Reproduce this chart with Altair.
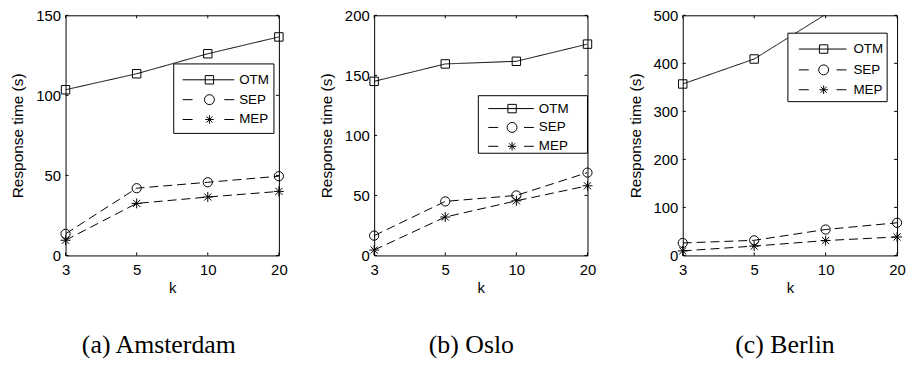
import altair as alt
import pandas as pd

# ---------------- data ----------------
k_labels = ["3", "5", "10", "20"]
series_names = ["OTM", "SEP", "MEP"]

ams_otm = [103.5, 113.5, 126, 136.5]
ams_sep = [13.5, 42, 45.7, 49.5]
ams_mep = [9.5, 32.5, 36.5, 40]

oslo_otm = [145, 159.5, 161.7, 176]
oslo_sep = [16.5, 45, 50, 69]
oslo_mep = [4.5, 32, 45.5, 58]

berlin_otm = [357, 409, 502, 650]   # last two run off the top of the axes
berlin_sep = [26, 31.5, 54, 68]
berlin_mep = [9.5, 19.5, 31, 38.5]

ams_yticks = [0, 50, 100, 150]
oslo_yticks = [0, 50, 100, 150, 200]
berlin_yticks = [0, 100, 200, 300, 400, 500]

captions = ["(a) Amsterdam", "(b) Oslo", "(c) Berlin"]

# ---------------- styling ----------------
FONT = "Liberation Sans"
H = 242
ASTERISK = "M-1,0L1,0M0,-1L0,1M-0.72,-0.72L0.72,0.72M-0.72,0.72L0.72,-0.72"
shape_range = ["square", "circle", ASTERISK]
size_range = [72, 100, 72]
dash_range = [[1, 0], [9, 5], [9, 5]]
one = pd.DataFrame({"_": [0]})


def panel(otm, sep, mep, ymax, yticks, W, leg, cap, cap_x):
    rows = []
    for name, vals in zip(series_names, [otm, sep, mep]):
        for k, v in zip(k_labels, vals):
            rows.append({"k": k, "v": v, "series": name})
    df = pd.DataFrame(rows)

    x = alt.X("k:O", sort=k_labels,
              scale=alt.Scale(type="point", padding=0, domain=k_labels),
              axis=alt.Axis(title="k", labelAngle=0, ticks=False, domain=False,
                            labelFontSize=15, titleFontSize=15, labelFont=FONT,
                            titleFont=FONT, titleFontWeight="normal",
                            labelPadding=7, titlePadding=3, labelColor="black",
                            titleColor="black", grid=False))
    y = alt.Y("v:Q", scale=alt.Scale(domain=[0, ymax], nice=False),
              axis=alt.Axis(title="Response time (s)", values=yticks, ticks=False,
                            domain=False, labelFontSize=15, titleFontSize=15.5,
                            labelFont=FONT, titleFont=FONT, titleFontWeight="normal",
                            labelPadding=5, titlePadding=10, labelColor="black",
                            titleColor="black", grid=False))

    lines = alt.Chart(df).mark_line(color="black", strokeWidth=1, clip=True).encode(
        x=x, y=y, detail="series:N",
        strokeDash=alt.StrokeDash("series:N", scale=alt.Scale(domain=series_names, range=dash_range), legend=None))
    points = alt.Chart(df).transform_filter(alt.datum.v <= ymax).mark_point(
        filled=False, color="black", strokeWidth=1, opacity=1).encode(
        x=x, y=y,
        shape=alt.Shape("series:N", scale=alt.Scale(domain=series_names, range=shape_range), legend=None),
        size=alt.Size("series:N", scale=alt.Scale(domain=series_names, range=size_range), legend=None))

    ydf = pd.DataFrame({"v": yticks})
    xdf = pd.DataFrame({"k": k_labels})
    tl = 3
    ticks = [
        alt.Chart(ydf).mark_rule(color="black", strokeWidth=1).encode(y=y, x=alt.value(0), x2=alt.value(tl)),
        alt.Chart(ydf).mark_rule(color="black", strokeWidth=1).encode(y=y, x=alt.value(W - tl), x2=alt.value(W)),
        alt.Chart(xdf).mark_rule(color="black", strokeWidth=1).encode(x=x, y=alt.value(H - tl), y2=alt.value(H)),
        alt.Chart(xdf).mark_rule(color="black", strokeWidth=1).encode(x=x, y=alt.value(0), y2=alt.value(tl)),
    ]

    # legend box
    bx0, bx1, by0, by1, rys, s0, s1, mx, tx = leg
    layers = [lines, points] + ticks
    layers.append(alt.Chart(one).mark_rect(fill="white", stroke="black", strokeWidth=1).encode(
        x=alt.value(bx0), x2=alt.value(bx1), y=alt.value(by0), y2=alt.value(by1)))
    dash = 10
    for i, name in enumerate(series_names):
        ry = rys[i]
        if i == 0:
            segs = [(s0, s1)]
        else:
            segs = [(s0, s0 + dash), (s1 - dash, s1)]
        for a, b in segs:
            layers.append(alt.Chart(one).mark_rule(color="black", strokeWidth=1).encode(
                x=alt.value(a), x2=alt.value(b), y=alt.value(ry)))
        layers.append(alt.Chart(one).mark_point(
            filled=False, color="black", strokeWidth=1, opacity=1,
            shape=shape_range[i], size=size_range[i]).encode(
            x=alt.value(mx), y=alt.value(ry)))
        layers.append(alt.Chart(one).mark_text(
            text=name, align="left", baseline="middle", font=FONT, fontSize=13.5,
            color="black").encode(x=alt.value(tx), y=alt.value(ry)))

    layers.append(alt.Chart(one).mark_text(
        text=cap, align="center", baseline="middle", font="Liberation Serif",
        fontSize=26, color="black").encode(x=alt.value(cap_x), y=alt.value(332)))

    return alt.layer(*layers).properties(width=W, height=H)


p1 = panel(ams_otm, ams_sep, ams_mep, 150, ams_yticks, 215,
           (109, 210, 49, 119, [65, 85, 105], 118, 170, 145, 175), captions[0], 94)
p2 = panel(oslo_otm, oslo_sep, oslo_mep, 200, oslo_yticks, 215,
           (105, 215, 81, 139, [94, 113, 132], 115, 161, 139, 166), captions[1], 98)
p3 = panel(berlin_otm, berlin_sep, berlin_mep, 500, berlin_yticks, 216,
           (106, 206, 18, 87, [34, 55, 75], 117, 165, 142, 172), captions[2], 103)

chart = alt.hconcat(p1, p2, p3, spacing=96, bounds="flush").properties(
    padding={"left": 2, "top": -2, "right": 0, "bottom": 0},
    background="white",
).configure_view(stroke="black", strokeWidth=1)

chart.save("out.html", embed_options={"renderer": "svg", "actions": False})
